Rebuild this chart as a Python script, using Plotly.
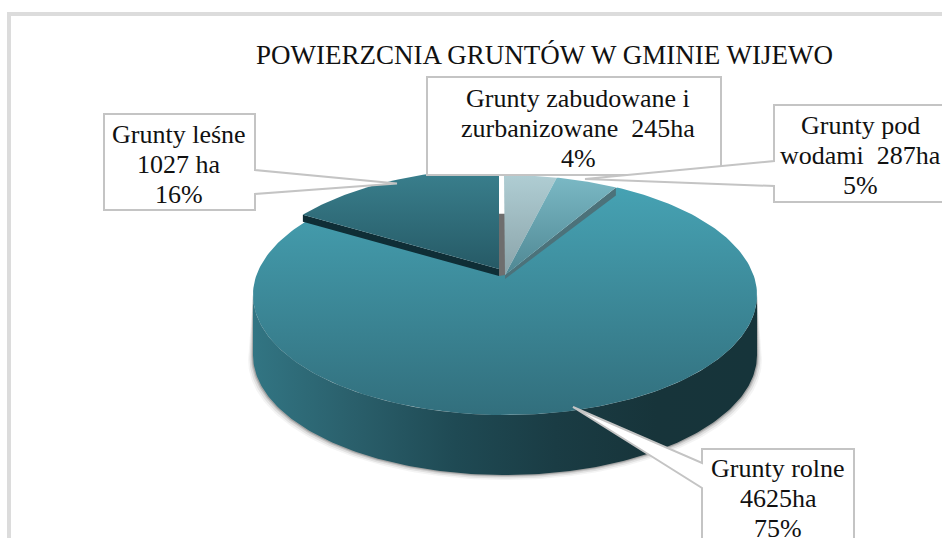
import numpy as np
import plotly.graph_objects as go

# --- data ---
categories = ["Grunty zabudowane i zurbanizowane", "Grunty pod wodami", "Grunty rolne", "Grunty leśne"]
values = [245, 287, 4625, 1027]
labels = [
    ["Grunty zabudowane i", "zurbanizowane  245ha", "4%"],
    ["Grunty pod", "wodami  287ha", "5%"],
    ["Grunty rolne", "4625ha", "75%"],
    ["Grunty leśne", "1027 ha", "16%"],
]
title_text = "POWIERZCNIA GRUNTÓW W GMINIE WIJEWO"
top_colors = [["#8aa3a9", "#afcdd3"], ["#4f8793", "#7ab8c4"], ["#326f7d", "#46a2b3"], ["#265a66", "#3a808e"]]
wall_colors = ["#6e6e6e", "#4c727a", "#17343a", "#0f2e36"]

# --- geometry of the perspective pie (pixel space) ---
W, H = 942, 538
APEX = (505, 275)
RX, RY, K = 248.5, 116.7, 1 / 6
DEPTH = 60
FONT = "Liberation Serif"


def rim(theta, off=(0, 0)):
    u, v = np.sin(theta), np.cos(theta)
    w = 1 + K * v
    return APEX[0] + RX * u / w + off[0], APEX[1] - RY * v / w + off[1]


fracs = np.array(values) / sum(values)
edges = np.concatenate([[0], np.cumsum(fracs)]) * 2 * np.pi
offsets = [(-1, 0), (-1, 0), (0, 0), (-4, -6)]

fig = go.Figure()


def poly(x, y, color=None, grad=None, gtype="vertical"):
    kw = dict(x=list(x), y=list(y), mode="lines", line=dict(width=0), fill="toself",
              hoverinfo="skip", showlegend=False)
    if grad is not None:
        n = len(grad) - 1
        kw["fillgradient"] = dict(type=gtype, colorscale=[[i / n, c] for i, c in enumerate(grad)])
    else:
        kw["fillcolor"] = color
    fig.add_trace(go.Scatter(**kw))


# soft shadow and outer wall of the big slice
t0 = np.arccos(-K)
ts = np.linspace(t0, 2 * np.pi - t0, 160)
xb, yb = rim(ts)
for grow, alpha in [(5, 0.06), (3.5, 0.10), (2, 0.16), (1, 0.25)]:
    sx = APEX[0] + (xb - APEX[0]) * (1 + grow / 260)
    poly(np.r_[xb, sx[::-1]], np.r_[yb, yb[::-1] + DEPTH + grow], color=f"rgba(60,60,60,{alpha})")
poly(np.r_[xb, xb[::-1]], np.r_[yb, yb[::-1] + DEPTH],
     grad=["#327583", "#2a5f6b", "#1f4a54", "#1a3c44", "#17343a", "#16343a"], gtype="horizontal")

# big slice top
i = 2
t = np.linspace(edges[i], edges[i + 1], 200)
x, y = rim(t)
poly(np.r_[APEX[0], x], np.r_[APEX[1], y], grad=top_colors[i])

# forest slice: side wall + top
i = 3
ox, oy = offsets[i]
cx, cy = rim(edges[i], (ox, oy))
a = (APEX[0] - 6, APEX[1] + oy)
poly([cx, a[0], a[0], cx], [cy, a[1], a[1] + 7, cy + 7], color=wall_colors[i])
t = np.linspace(edges[i], edges[i + 1], 60)
x, y = rim(t, (ox, oy))
x[-1] = a[0]
poly(np.r_[a[0], x], np.r_[a[1], y], grad=top_colors[i])

# inner wall visible between forest and the small slices
_, inner_top = rim(edges[3], (0, 0))
poly([a[0], APEX[0], APEX[0], a[0]], [inner_top - 7, inner_top - 7, APEX[1], a[1] + 7], color=wall_colors[0])

# small slices
i = 1
rx1, ry1 = rim(edges[2], offsets[i])
poly([rx1, APEX[0], APEX[0], rx1], [ry1, APEX[1], APEX[1] + 4, ry1 + 8], color=wall_colors[i])
for i in (0, 1):
    t = np.linspace(edges[i], edges[i + 1], 30)
    x, y = rim(t, offsets[i])
    poly(np.r_[APEX[0], x], np.r_[APEX[1], y], grad=top_colors[i])

# callouts (pixel outlines) in stacking order
callouts = [
    "M104,114 H255 V170 L397,183.5 L255,194 V210 H104 Z",
    "M427,77 H721 V175 H427 Z",
    "M774,105 H960 V202 H774 V186 L585,179 L774,161 Z",
    "M702,449 H854 V560 H702 V488 L573,407 L702,463 Z",
]
shapes = [dict(type="rect", xref="x", yref="y", x0=9, y0=14, x1=990, y1=600,
               line=dict(color="#dcdcdc", width=4), layer="below")]
for p in callouts:
    shapes.append(dict(type="path", path=p, xref="x", yref="y", fillcolor="white",
                       line=dict(color="#c4c4c4", width=2), layer="above"))

label_pos = [(578, 98), (860, 125), (778, 468), (179, 134)]
ann = []
for (px, py), lines in zip(label_pos, labels):
    for j, line in enumerate(lines):
        ann.append(dict(x=px, y=py + 30 * j, text=line, xref="x", yref="y", showarrow=False,
                        font=dict(family=FONT, size=26, color="#111111")))
ann.append(dict(x=544, y=55, text=title_text, xref="x", yref="y", showarrow=False,
                font=dict(family=FONT, size=27, color="#111111")))

fig.update_layout(
    width=W, height=H, margin=dict(l=0, r=0, t=0, b=0),
    paper_bgcolor="white", plot_bgcolor="white", showlegend=False,
    xaxis=dict(range=[0, W], visible=False, fixedrange=True),
    yaxis=dict(range=[H, 0], visible=False, fixedrange=True),
    shapes=shapes, annotations=ann,
)
fig.write_html("out.html", config={"displayModeBar": False},
               post_script="document.body.style.margin='0';")
